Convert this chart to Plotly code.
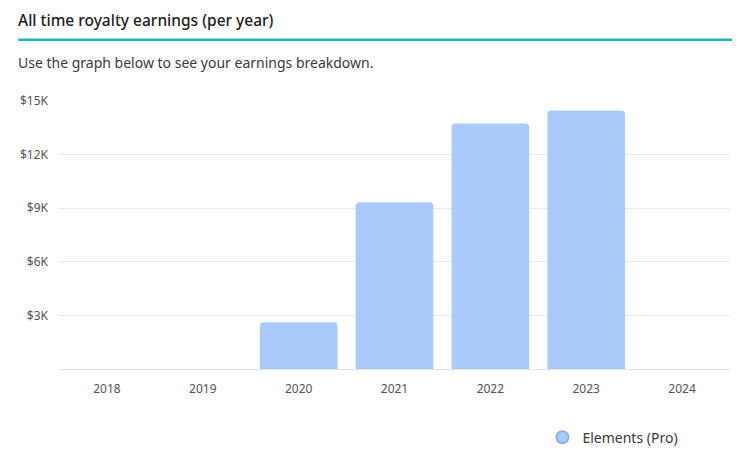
import plotly.graph_objects as go

years = ["2018", "2019", "2020", "2021", "2022", "2023", "2024"]
earnings = [0, 0, 2620, 9330, 13740, 14470, 0]
series_name = "Elements (Pro)"
y_tickvals = [3000, 6000, 9000, 12000, 15000]
y_ticktext = ["$3K", "$6K", "$9K", "$12K", "$15K"]

title_text = "All time royalty earnings (per year)"
subtitle_text = "Use the graph below to see your earnings breakdown."

bar_color = "#a9cbfc"
FONT = "Noto Sans"

L, T, W, H = 48, 93, 674, 271


def px(x):
    return (x - L) / W


def py(y):
    return 1 + (T - y) / H


fig = go.Figure()
fig.add_trace(go.Bar(
    x=years, y=earnings, name=series_name,
    marker=dict(color=bar_color, line=dict(width=0)),
    showlegend=False, hoverinfo="x+y",
))
fig.add_trace(go.Scatter(
    x=[None], y=[None], mode="markers", name=series_name,
    marker=dict(symbol="circle", size=14, color=bar_color,
                line=dict(color="#8fb2e6", width=1)),
    showlegend=True,
))

fig.update_layout(
    width=740, height=458,
    margin=dict(l=L, r=740 - L - W, t=T, b=458 - T - H),
    paper_bgcolor="white", plot_bgcolor="white",
    font=dict(family=FONT, color="#555555", size=12),
    bargap=0.19,
    barcornerradius=4,
    showlegend=True,
    legend=dict(
        orientation="h", x=px(533.6), y=py(433.4), xanchor="left", yanchor="middle",
        font=dict(family=FONT, size=14, color="#3a3a3a"),
        itemsizing="constant",
    ),
    xaxis=dict(
        type="category", showgrid=False, showline=False, zeroline=False,
        ticks="", tickfont=dict(size=12, color="#555555"),
        ticklabelstandoff=11, fixedrange=True,
    ),
    yaxis=dict(
        range=[0, 15000], tickvals=y_tickvals, ticktext=y_ticktext,
        showgrid=True, gridcolor="#ebebeb", gridwidth=1,
        zeroline=True, zerolinecolor="#e3e3e3", zerolinewidth=1,
        showline=False, ticks="", tickfont=dict(size=12, color="#555555"),
        ticklabelstandoff=10, fixedrange=True,
    ),
    annotations=[
        dict(text=title_text, xref="paper", yref="paper", x=px(5),
             y=py(11), xanchor="left", yanchor="middle",
             showarrow=False, font=dict(family=FONT, size=15.5, color="#1c1c1c", weight=500)),
        dict(text=subtitle_text, xref="paper", yref="paper", x=px(5),
             y=py(54), xanchor="left", yanchor="middle",
             showarrow=False, font=dict(family=FONT, size=14, color="#3a3a3a")),
    ],
    shapes=[
        dict(type="line", xref="paper", yref="paper",
             x0=px(7), x1=px(740),
             y0=py(31), y1=py(31),
             line=dict(color="#1fb5c0", width=2.5)),
    ],
)

fig.write_html("out.html")
